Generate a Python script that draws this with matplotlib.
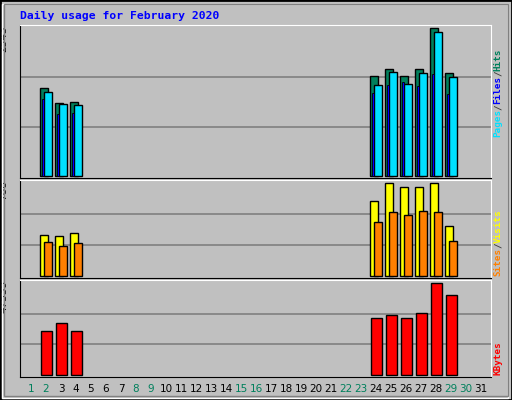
import matplotlib
matplotlib.use("Agg")
import matplotlib.pyplot as plt
from matplotlib.patches import Rectangle
import numpy as np

DAYS = [2, 3, 4, 24, 25, 26, 27, 28, 29]
HITS = [1517, 1257, 1274, 1724, 1845, 1724, 1845, 2543, 1776]
FILES = [1448, 1240, 1223, 1569, 1793, 1586, 1776, 2468, 1707]
PAGES = [1315, 1067, 1085, 1430, 1569, 1620, 1551, 1759, 1413]
VISITS = [347, 339, 364, 631, 785, 751, 751, 788, 424]
SITES = [287, 253, 278, 459, 545, 519, 553, 545, 295]
KBYTES = [22560, 26760, 22560, 29370, 30930, 29370, 31970, 47539, 41340]
WEEKEND = [1, 2, 8, 9, 15, 16, 22, 23, 29, 30]
TITLE = "Daily usage for February 2020"

W, H = 512, 400
BG = "#C0C0C0"
C_HITS, C_FILES, C_PAGES = "#00805C", "#0000FF", "#00E0FF"
C_VISITS, C_SITES, C_KB = "#FFFF00", "#FF8000", "#FF0000"
MONO = "DejaVu Sans Mono"

fig = plt.figure(figsize=(W / 100, H / 100), dpi=100, facecolor=BG)

# bevelled outer frame
fig.patches.append(Rectangle((0, 0), 1, 1, transform=fig.transFigure,
                             fill=False, edgecolor="black", lw=2))
fig.patches.append(Rectangle((2 / W, 2 / H), 1 - 6 / W, 1 - 6 / H,
                             transform=fig.transFigure, fill=False,
                             edgecolor="white", lw=1))
fig.patches.append(Rectangle((4 / W, 4 / H), 1 - 8 / W, 1 - 8 / H,
                             transform=fig.transFigure, fill=False,
                             edgecolor="#808080", lw=1))


def px_axes(x0, y0, x1, y1):
    return fig.add_axes([x0 / W, 1 - y1 / H, (x1 - x0) / W, (y1 - y0) / H])


XMIN, XMAX = 1 - 11 / 15, 1 + 460 / 15
panels = [(25, 178, 2543), (180, 278, 788), (280, 377, 47539)]
axes = []
for top, bottom, vmax in panels:
    ax = px_axes(20, top, 491, bottom)
    ax.set_facecolor(BG)
    ax.set_xlim(XMIN, XMAX)
    pad = 2 / (bottom - top)
    ax.set_ylim(-vmax * pad, vmax * (1 + 3 / (bottom - top)))
    ax.set_xticks([])
    ax.set_yticks([])
    for side in ("left", "bottom"):
        ax.spines[side].set_color("black")
    for side in ("right", "top"):
        ax.spines[side].set_color("white")
    for frac in (1 / 3, 2 / 3):
        ax.axhline(vmax * frac, color="#808080", lw=1.2, zorder=0)
    ax.text(-0.035, 1.0, str(vmax), transform=ax.transAxes, rotation=90,
            ha="center", va="top", fontsize=7.5, family="DejaVu Sans",
            color="black")
    axes.append(ax)

d = np.array(DAYS, dtype=float)
u = 1 / 15
bar = dict(align="edge", edgecolor="black", linewidth=1, zorder=3)
a1, a2, a3 = axes
a1.bar(d - 6 * u, HITS, width=7.7 * u, color=C_HITS, **bar)
a1.bar(d - 4 * u, PAGES, width=2 * u, color=C_FILES, zorder=4,
       align="edge", edgecolor="black", linewidth=0.6)
a1.bar(d - 2 * u, FILES, width=8 * u, color=C_PAGES, **bar)
a2.bar(d - 6 * u, VISITS, width=8.3 * u, color=C_VISITS, **bar)
a2.bar(d - 1.7 * u, SITES, width=7.4 * u, color=C_SITES, **bar)
a3.bar(d - 5 * u, KBYTES, width=10.7 * u, color=C_KB, **bar)

# day labels
for day in range(1, 32):
    a3.text(day, -12 / 97, str(day), transform=a3.get_xaxis_transform(),
            ha="center", va="center", fontsize=7.5, family="DejaVu Sans",
            color=C_HITS if day in WEEKEND else "black")

fig.text(20 / W, 1 - 16 / H, TITLE, ha="left", va="center", color="#0000FF",
         fontsize=8.2, family=MONO, fontweight="bold")


def legend(parts, y_bottom_px):
    # rotated legend built bottom-to-top from coloured pieces
    step = 5.5
    pos = y_bottom_px
    for txt, col in parts:
        fig.text(498 / W, 1 - pos / H, txt, rotation=90, ha="center",
                 va="bottom", color=col, fontsize=6.7, family=MONO,
                 fontweight="bold")
        pos -= step * len(txt)


legend([("Pages", C_PAGES), ("/", "#404040"), ("Files", C_FILES),
        ("/", "#404040"), ("Hits", C_HITS)], 137)
legend([("Sites", C_SITES), ("/", "#404040"), ("Visits", C_VISITS)], 276)
legend([("KBytes", C_KB)], 375)

fig.savefig("out.png", dpi=100, facecolor=BG)
